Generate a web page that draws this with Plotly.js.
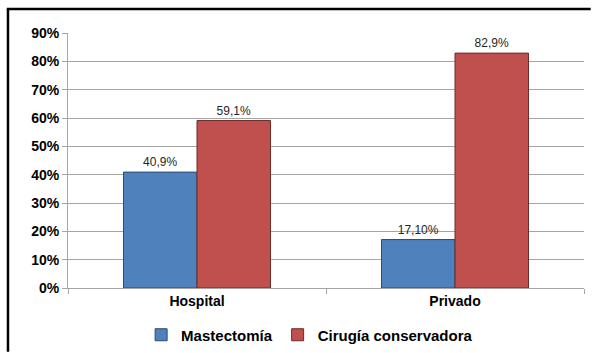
<!DOCTYPE html>
<html>
<head>
<meta charset="utf-8">
<script src="https://cdn.plot.ly/plotly-3.0.1.min.js"></script>
<style>
  html, body { margin: 0; padding: 0; background: #ffffff; overflow: hidden; }
  #chart { width: 592px; height: 353px; overflow: hidden; }
</style>
</head>
<body>
<div id="chart"></div>
<script>
// Tipo de cirugía por centro
const categories = ['Hospital', 'Privado'];
const seriesNames = ['Mastectomía', 'Cirugía conservadora'];
const mastectomia = [0.409, 0.171];
const conservadora = [0.591, 0.829];
const mastectomiaLabels = ['40,9%', '17,10%'];
const conservadoraLabels = ['59,1%', '82,9%'];
const yTickValues = [0, 0.1, 0.2, 0.3, 0.4, 0.5, 0.6, 0.7, 0.8, 0.9];
const yTickLabels = ['0%', '10%', '20%', '30%', '40%', '50%', '60%', '70%', '80%', '90%'];

const FONT = 'Liberation Sans, Arial, sans-serif';
const labelFont = { family: FONT, size: 12, color: '#262626' };

const traces = [
  {
    type: 'bar',
    name: seriesNames[0],
    x: categories,
    y: mastectomia,
    text: mastectomiaLabels,
    textposition: 'outside',
    textfont: labelFont,
    cliponaxis: false,
    hoverinfo: 'skip',
    marker: { color: '#4F81BD', line: { color: '#2c4a70', width: 1 } }
  },
  {
    type: 'bar',
    name: seriesNames[1],
    x: categories,
    y: conservadora,
    text: conservadoraLabels,
    textposition: 'outside',
    textfont: labelFont,
    cliponaxis: false,
    hoverinfo: 'skip',
    marker: { color: '#C0504D', line: { color: '#6b2b29', width: 1 } }
  }
];

// frame edges (left and top) around the chart area
const frameLine = { color: '#000000', width: 2.5 };

const layout = {
  width: 592,
  height: 353,
  margin: { l: 68, r: 8, t: 33, b: 64.5, pad: 0 },
  paper_bgcolor: '#ffffff',
  plot_bgcolor: '#ffffff',
  barmode: 'group',
  bargap: 0.43,
  bargroupgap: 0,
  showlegend: true,
  font: { family: FONT, color: '#000000' },
  xaxis: {
    type: 'category',
    automargin: false,
    showgrid: false,
    showline: true,
    linecolor: '#a6a6a6',
    linewidth: 1,
    ticks: 'outside',
    tickson: 'boundaries',
    ticklen: 5,
    tickcolor: '#a6a6a6',
    tickfont: { family: FONT, size: 14, weight: 'bold', color: '#000000' },
    fixedrange: true
  },
  yaxis: {
    range: [0, 0.9],
    automargin: false,
    tickvals: yTickValues,
    ticktext: yTickLabels,
    showgrid: true,
    gridcolor: '#a6a6a6',
    gridwidth: 1,
    zeroline: false,
    showline: true,
    linecolor: '#a6a6a6',
    linewidth: 1,
    ticks: 'outside',
    ticklen: 5,
    tickcolor: '#a6a6a6',
    tickfont: { family: FONT, size: 14, weight: 'bold', color: '#000000' },
    fixedrange: true
  },
  legend: {
    orientation: 'h',
    xref: 'container',
    yref: 'container',
    x: 0.523,
    xanchor: 'center',
    y: 0.051,
    yanchor: 'middle',
    font: { family: FONT, size: 15, weight: 'bold', color: '#000000' },
    itemwidth: 30,
    traceorder: 'normal',
    bgcolor: 'rgba(0,0,0,0)'
  },
  shapes: [
    {
      type: 'line', xref: 'paper', yref: 'paper',
      x0: -0.1163, x1: -0.1163, y0: -0.25, y1: 1.0939,
      line: frameLine, layer: 'above'
    },
    {
      type: 'line', xref: 'paper', yref: 'paper',
      x0: -0.1187, x1: 1.013, y0: 1.0939, y1: 1.0939,
      line: frameLine, layer: 'above'
    }
  ]
};

Plotly.newPlot('chart', traces, layout, { displayModeBar: false, staticPlot: true });
</script>
</body>
</html>
